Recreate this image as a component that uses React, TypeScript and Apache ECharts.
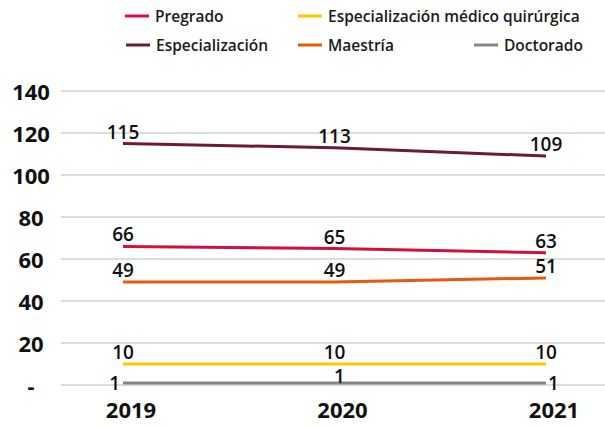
import React, { useEffect, useRef } from "react";
import * as echarts from "echarts";

const years = ["2019", "2020", "2021"];
const pregrado = [66, 65, 63];
const especializacion = [115, 113, 109];
const especialMedQuir = [10, 10, 10];
const maestria = [49, 49, 51];
const doctorado = [1, 1, 1];

const seriesNames = [
  "Pregrado",
  "Especialización médico quirúrgica",
  "Especialización",
  "Maestría",
  "Doctorado",
];
const colors = ["#d40f3c", "#fcc900", "#6d1a36", "#e8590c", "#858585"];

const FONT = "Open Sans";

export default function App() {
  const ref = useRef<HTMLDivElement>(null);
  useEffect(() => {
    if (!ref.current) return;
    const chart = echarts.init(ref.current, null, { renderer: "svg" });
    const labelBase = {
      show: true,
      position: "top",
      distance: 3,
      color: "#111",
      fontFamily: FONT,
      fontSize: 19,
      lineHeight: 18,
      fontWeight: 600,
    };
    const mkSeries = (name: string, data: any[], color: string, z: number) => ({
      name,
      type: "line",
      xAxisIndex: 1,
      yAxisIndex: 1,
      data,
      color,
      symbol: "circle",
      symbolSize: 0,
      showSymbol: true,
      lineStyle: { width: 3, color },
      itemStyle: { color },
      label: labelBase,
      z,
    });
    const docData = [
      { value: doctorado[0], label: { position: "left", distance: 3 } },
      { value: doctorado[1], label: { position: "top", distance: -2, offset: [5, 0] } },
      { value: doctorado[2], label: { position: "right", distance: 2 } },
    ];
    const legendPos = [
      { left: 125, top: 8 },
      { left: 298, top: 8 },
      { left: 126, top: 37 },
      { left: 298, top: 37 },
      { left: 474, top: 37 },
    ];
    const option: any = {
      animation: false,
      backgroundColor: "#ffffff",
      textStyle: { fontFamily: FONT },
      legend: seriesNames.map((n, i) => ({
        data: [n],
        left: legendPos[i].left,
        top: legendPos[i].top,
        padding: 0,
        icon: "rect",
        itemWidth: 24,
        itemHeight: 3,
        selectedMode: false,
        textStyle: {
          fontFamily: FONT,
          fontSize: 15.5,
          fontWeight: 600,
          color: "#1a1a1a",
          padding: [0, 0, 0, 1],
        },
      })),
      grid: [
        { left: 61, right: 0, top: 91, bottom: 41 },
        { left: 123, right: 59, top: 91, bottom: 41 },
      ],
      xAxis: [
        { type: "category", gridIndex: 0, data: years, show: false },
        {
          type: "category",
          gridIndex: 1,
          data: years,
          boundaryGap: false,
          axisLine: { show: false },
          axisTick: { show: false },
          splitLine: { show: false },
          axisLabel: {
            margin: 13,
            color: "#111",
            fontFamily: FONT,
            fontSize: 22,
            fontWeight: 700,
            padding: [0, 0, 0, 16],
          },
        },
      ],
      yAxis: [
        {
          type: "value",
          gridIndex: 0,
          min: 0,
          max: 140,
          interval: 20,
          axisLine: { show: false },
          axisTick: { show: false },
          splitLine: { show: true, lineStyle: { color: "#dcdcdc", width: 2 } },
          axisLabel: {
            align: "center",
            margin: 30,
            color: "#111",
            fontFamily: FONT,
            fontSize: 22,
            fontWeight: 700,
            padding: [0, 0, 4, 0],
            formatter: (v: number) => (v === 0 ? "-" : String(v)),
          },
        },
        {
          type: "value",
          gridIndex: 1,
          min: 0,
          max: 140,
          interval: 20,
          show: false,
          splitLine: { show: false },
        },
      ],
      series: [
        mkSeries(seriesNames[0], pregrado, colors[0], 3),
        mkSeries(seriesNames[1], especialMedQuir, colors[1], 3),
        mkSeries(seriesNames[2], especializacion, colors[2], 3),
        mkSeries(seriesNames[3], maestria, colors[3], 3),
        mkSeries(seriesNames[4], docData, colors[4], 4),
      ],
    };
    chart.setOption(option);
    return () => chart.dispose();
  }, []);
  return <div ref={ref} style={{ width: 605, height: 426, position: "fixed", left: 0, top: 0 }} />;
}
